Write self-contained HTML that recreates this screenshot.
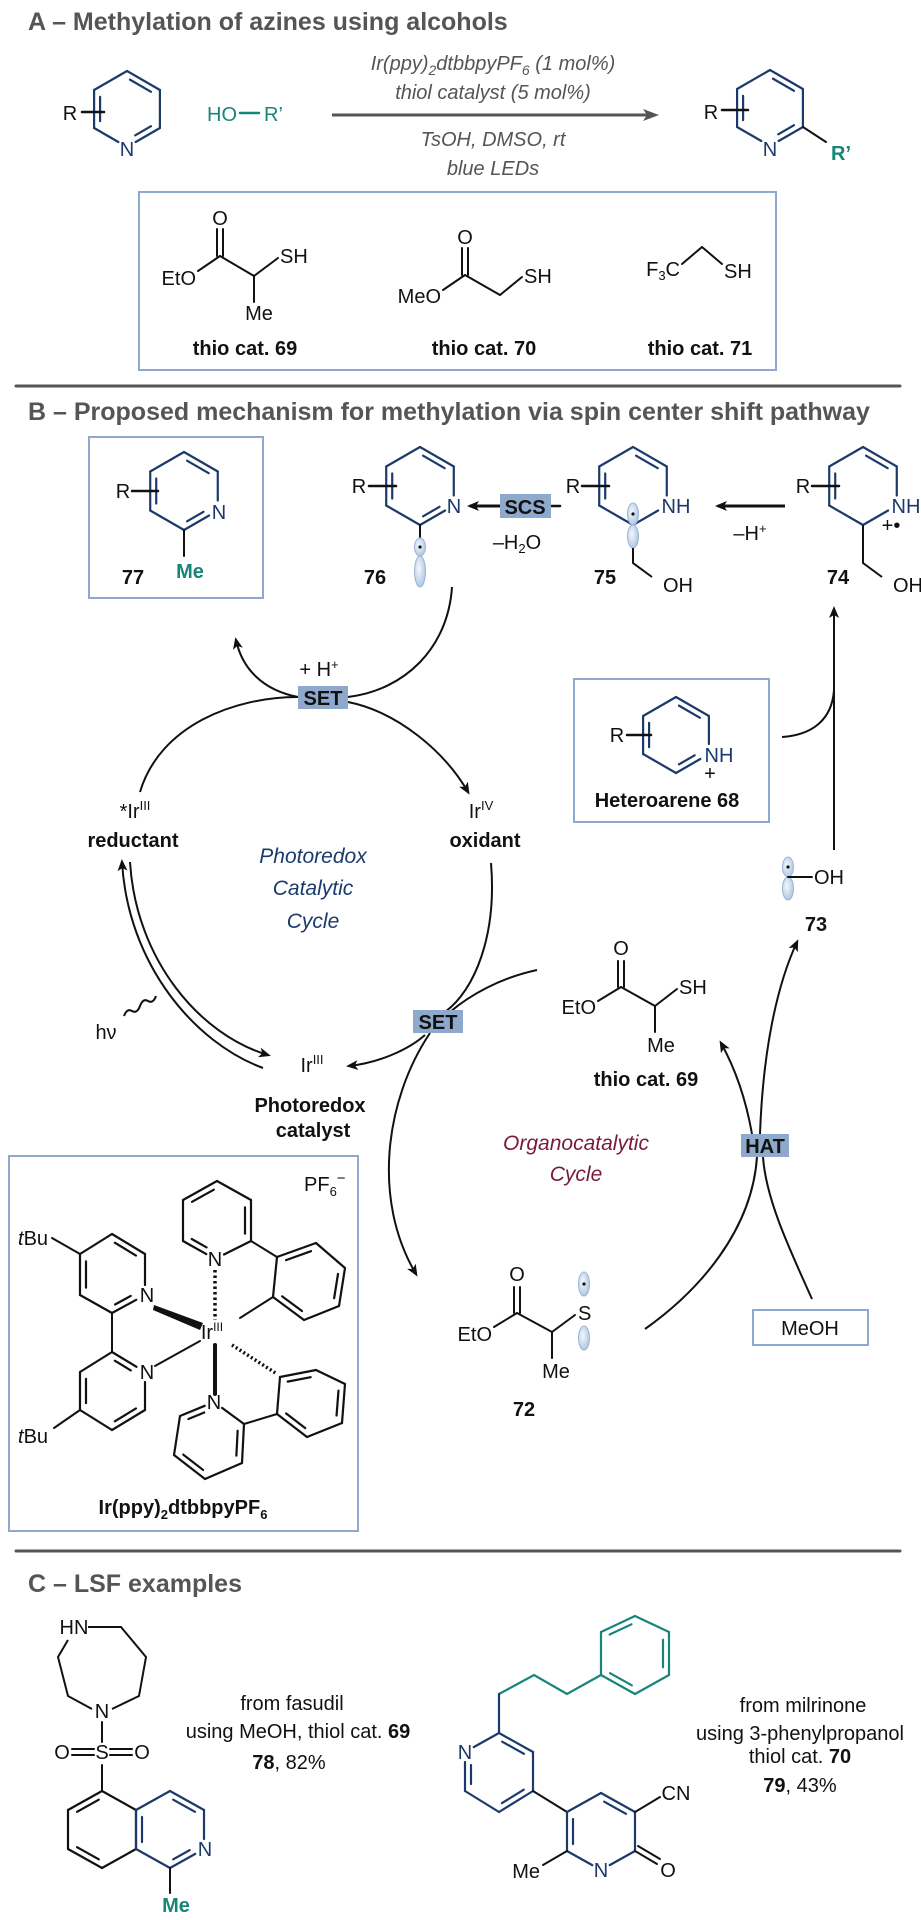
<!DOCTYPE html>
<html><head><meta charset="utf-8">
<style>
html,body{margin:0;padding:0;background:#fff;}
svg{display:block;}
text{font-family:"Liberation Sans Narrow","Liberation Sans",sans-serif;}
.t{font-size:25px;font-weight:bold;fill:#555;}
.a{font-size:20px;fill:#111;}
.b{font-size:20px;font-weight:bold;fill:#111;}
.c{font-size:20px;font-style:italic;fill:#555;font-family:"Liberation Sans",sans-serif;}
.teal{fill:#17857a;}
.nv{fill:#1b3a6b;}
</style></head>
<body>
<svg id="s" width="921" height="1920" viewBox="0 0 921 1920" xmlns="http://www.w3.org/2000/svg">
<defs>
<marker id="ah" markerWidth="12" markerHeight="10" refX="9" refY="5" orient="auto" markerUnits="userSpaceOnUse">
<path d="M0,0 L12,5 L0,10 L3,5 Z" fill="#111"/></marker>
<marker id="ahg" markerWidth="16" markerHeight="12" refX="12" refY="6" orient="auto" markerUnits="userSpaceOnUse">
<path d="M0,0 L16,6 L0,12 L4,6 Z" fill="#555"/></marker>
<radialGradient id="lg" cx="0.4" cy="0.4" r="0.7"><stop offset="0" stop-color="#f4f8fd"/><stop offset="1" stop-color="#a9c0de"/></radialGradient>
</defs>
<g id="g"></g>

<!-- Section A -->
<text class="t" x="28" y="30">A – Methylation of azines using alcohols</text>
<text class="a" x="70" y="120" text-anchor="middle">R</text>
<text class="a nv" x="127" y="156" text-anchor="middle">N</text>
<text class="a teal" x="207" y="121">HO</text>
<text class="a teal" x="264" y="121">R’</text>
<text class="c" x="493" y="70" text-anchor="middle">Ir(ppy)<tspan font-size="14" dy="5">2</tspan><tspan dy="-5">dtbbpyPF</tspan><tspan font-size="14" dy="5">6</tspan><tspan dy="-5"> (1 mol%)</tspan></text>
<text class="c" x="493" y="99" text-anchor="middle">thiol catalyst (5 mol%)</text>
<text class="c" x="493" y="146" text-anchor="middle">TsOH, DMSO, rt</text>
<text class="c" x="493" y="175" text-anchor="middle">blue LEDs</text>
<text class="a" x="711" y="119" text-anchor="middle">R</text>
<text class="a nv" x="770" y="156" text-anchor="middle">N</text>
<text class="b teal" x="841" y="160" text-anchor="middle">R’</text>

<rect x="139" y="192" width="637" height="178" fill="none" stroke="#8ea8d0" stroke-width="2"/>
<text class="a" x="220" y="225" text-anchor="middle">O</text>
<text class="a" x="196" y="285" text-anchor="end">EtO</text>
<text class="a" x="280" y="263">SH</text>
<text class="a" x="259" y="320" text-anchor="middle">Me</text>
<text class="a" x="465" y="244" text-anchor="middle">O</text>
<text class="a" x="441" y="303" text-anchor="end">MeO</text>
<text class="a" x="524" y="283">SH</text>
<text class="a" x="680" y="276" text-anchor="end">F<tspan font-size="13" dy="4">3</tspan><tspan dy="-4">C</tspan></text>
<text class="a" x="724" y="278">SH</text>
<text class="b" x="245" y="355" text-anchor="middle">thio cat. 69</text>
<text class="b" x="484" y="355" text-anchor="middle">thio cat. 70</text>
<text class="b" x="700" y="355" text-anchor="middle">thio cat. 71</text>

<!-- Section B -->
<text class="t" x="28" y="420">B – Proposed mechanism for methylation via spin center shift pathway</text>
<rect x="89" y="437" width="174" height="161" fill="none" stroke="#8ea8d0" stroke-width="2"/>
<text class="a" x="123" y="498" text-anchor="middle">R</text>
<text class="a nv" x="219" y="519" text-anchor="middle">N</text>
<text class="b teal" x="190" y="578" text-anchor="middle">Me</text>
<text class="b" x="133" y="584" text-anchor="middle">77</text>

<text class="a" x="359" y="493" text-anchor="middle">R</text>
<text class="a nv" x="454" y="513" text-anchor="middle">N</text>
<text class="b" x="375" y="584" text-anchor="middle">76</text>
<rect x="500" y="494" width="51" height="24" fill="#8fa9cc"/>
<text class="b" x="525" y="514" text-anchor="middle">SCS</text>
<text class="a" x="517" y="549" text-anchor="middle">–H<tspan font-size="13" dy="4">2</tspan><tspan dy="-4">O</tspan></text>

<text class="a" x="573" y="493" text-anchor="middle">R</text>
<text class="a nv" x="676" y="513" text-anchor="middle">NH</text>
<text class="b" x="605" y="584" text-anchor="middle">75</text>
<text class="a" x="678" y="592" text-anchor="middle">OH</text>
<text class="a" x="750" y="540" text-anchor="middle">–H<tspan font-size="13" dy="-7">+</tspan></text>

<text class="a" x="803" y="493" text-anchor="middle">R</text>
<text class="a nv" x="906" y="513" text-anchor="middle">NH</text>
<text class="a" x="891" y="532" text-anchor="middle" font-size="14">+•</text>
<text class="b" x="838" y="584" text-anchor="middle">74</text>
<text class="a" x="908" y="592" text-anchor="middle">OH</text>

<rect x="298" y="686" width="50" height="23" fill="#8fa9cc"/>
<text class="b" x="323" y="705" text-anchor="middle">SET</text>
<text class="a" x="319" y="676" text-anchor="middle">+ H<tspan font-size="13" dy="-7">+</tspan></text>

<rect x="574" y="679" width="195" height="143" fill="none" stroke="#8ea8d0" stroke-width="2"/>
<text class="a" x="617" y="742" text-anchor="middle">R</text>
<text class="a nv" x="719" y="762" text-anchor="middle">NH</text>
<text class="a" x="710" y="780" text-anchor="middle" font-size="15">+</text>
<text class="b" x="667" y="807" text-anchor="middle">Heteroarene 68</text>

<text class="a" x="135" y="818" text-anchor="middle">*Ir<tspan font-size="13" dy="-8">III</tspan></text>
<text class="a" x="481" y="818" text-anchor="middle">Ir<tspan font-size="13" dy="-8">IV</tspan></text>
<text class="b" x="133" y="847" text-anchor="middle">reductant</text>
<text class="b" x="485" y="847" text-anchor="middle">oxidant</text>
<g font-family="Liberation Sans,sans-serif" font-style="italic" font-size="21" fill="#1b3a6b" text-anchor="middle">
<text x="313" y="863">Photoredox</text><text x="313" y="895">Catalytic</text><text x="313" y="928">Cycle</text></g>

<text class="a" x="814" y="884">OH</text>
<text class="b" x="816" y="931" text-anchor="middle">73</text>

<text class="a" x="621" y="955" text-anchor="middle">O</text>
<text class="a" x="596" y="1014" text-anchor="end">EtO</text>
<text class="a" x="679" y="994">SH</text>
<text class="a" x="661" y="1052" text-anchor="middle">Me</text>
<text class="b" x="646" y="1086" text-anchor="middle" fill="#555">thio cat. 69</text>

<text class="a" x="106" y="1039" text-anchor="middle" font-size="22">hν</text>
<rect x="413" y="1010" width="50" height="23" fill="#8fa9cc"/>
<text class="b" x="438" y="1029" text-anchor="middle">SET</text>
<text class="a" x="312" y="1072" text-anchor="middle">Ir<tspan font-size="13" dy="-8">III</tspan></text>
<text class="b" x="310" y="1112" text-anchor="middle">Photoredox</text>
<text class="b" x="313" y="1137" text-anchor="middle">catalyst</text>

<g font-family="Liberation Sans,sans-serif" font-style="italic" font-size="21" fill="#7a1a3a" text-anchor="middle">
<text x="576" y="1150">Organocatalytic</text><text x="576" y="1181">Cycle</text></g>
<rect x="741" y="1134" width="48" height="23" fill="#8fa9cc"/>
<text class="b" x="765" y="1153" text-anchor="middle">HAT</text>
<rect x="753" y="1310" width="115" height="35" fill="none" stroke="#8ea8d0" stroke-width="2"/>
<text class="a" x="810" y="1335" text-anchor="middle">MeOH</text>

<text class="a" x="517" y="1281" text-anchor="middle">O</text>
<text class="a" x="492" y="1341" text-anchor="end">EtO</text>
<text class="a" x="578" y="1320">S</text>
<text class="a" x="556" y="1378" text-anchor="middle">Me</text>
<text class="b" x="524" y="1416" text-anchor="middle">72</text>

<rect x="9" y="1156" width="349" height="375" fill="none" stroke="#8ea8d0" stroke-width="2"/>
<text class="a" x="304" y="1191">PF<tspan font-size="13" dy="5">6</tspan><tspan font-size="15" dy="-13">−</tspan></text>
<text class="a" x="18" y="1245"><tspan font-style="italic">t</tspan>Bu</text>
<text class="a" x="18" y="1443"><tspan font-style="italic">t</tspan>Bu</text>
<text class="a" x="147" y="1302" text-anchor="middle">N</text>
<text class="a" x="147" y="1379" text-anchor="middle">N</text>
<text class="a" x="215" y="1266" text-anchor="middle">N</text>
<text class="a" x="214" y="1409" text-anchor="middle">N</text>
<text class="a" x="212" y="1339" text-anchor="middle">Ir<tspan font-size="12" dy="-8">III</tspan></text>
<text class="b" x="183" y="1514" text-anchor="middle">Ir(ppy)<tspan font-size="13" dy="5">2</tspan><tspan dy="-5">dtbbpyPF</tspan><tspan font-size="13" dy="5">6</tspan></text>

<!-- Section C -->
<text class="t" x="28" y="1592">C – LSF examples</text>
<text class="a" x="74" y="1634" text-anchor="middle">HN</text>
<text class="a" x="102" y="1718" text-anchor="middle">N</text>
<text class="a" x="102" y="1759" text-anchor="middle">S</text>
<text class="a" x="62" y="1759" text-anchor="middle">O</text>
<text class="a" x="142" y="1759" text-anchor="middle">O</text>
<text class="a nv" x="205" y="1856" text-anchor="middle">N</text>
<text class="b teal" x="176" y="1912" text-anchor="middle">Me</text>
<text class="a" x="292" y="1710" text-anchor="middle">from fasudil</text>
<text class="a" x="298" y="1738" text-anchor="middle">using MeOH, thiol cat. <tspan font-weight="bold">69</tspan></text>
<text class="a" x="289" y="1769" text-anchor="middle"><tspan font-weight="bold">78</tspan>, 82%</text>

<text class="a nv" x="465" y="1759" text-anchor="middle">N</text>
<text class="a nv" x="601" y="1877" text-anchor="middle">N</text>
<text class="a" x="676" y="1800" text-anchor="middle">CN</text>
<text class="a" x="668" y="1877" text-anchor="middle">O</text>
<text class="a" x="540" y="1878" text-anchor="end">Me</text>
<text class="a" x="803" y="1712" text-anchor="middle">from milrinone</text>
<text class="a" x="800" y="1740" text-anchor="middle">using 3-phenylpropanol</text>
<text class="a" x="800" y="1763" text-anchor="middle">thiol cat. <tspan font-weight="bold">70</tspan></text>
<text class="a" x="800" y="1792" text-anchor="middle"><tspan font-weight="bold">79</tspan>, 43%</text>
</svg>
<script>
var g=document.getElementById('g'),NS='http://www.w3.org/2000/svg';
function el(t,a){var e=document.createElementNS(NS,t);for(var k in a)e.setAttribute(k,a[k]);g.appendChild(e);return e;}
function L(x1,y1,x2,y2,c,w){el('line',{x1:x1,y1:y1,x2:x2,y2:y2,stroke:c||'#111','stroke-width':w||2,'stroke-linecap':'round'});}
function P(d,c,w,m){var a={d:d,fill:'none',stroke:c||'#111','stroke-width':w||2};if(m)a['marker-end']='url(#ah)';el('path',a);}
function poly(p,c,dbl,lab){var n=p.length,cx=0,cy=0;p.forEach(function(q){cx+=q[0];cy+=q[1]});cx/=n;cy/=n;lab=lab||[];
 for(var i=0;i<n;i++){var a=p[i],b=p[(i+1)%n],dx=b[0]-a[0],dy=b[1]-a[1],l=Math.hypot(dx,dy),ux=dx/l,uy=dy/l;
  var s1=lab.indexOf(i)>=0?10:0,s2=lab.indexOf((i+1)%n)>=0?10:0;
  L(a[0]+ux*s1,a[1]+uy*s1,b[0]-ux*s2,b[1]-uy*s2,c,2.2);
  if(dbl.indexOf(i)>=0){var mx=(a[0]+b[0])/2,my=(a[1]+b[1])/2,nx=-uy,ny=ux;if((cx-mx)*nx+(cy-my)*ny<0){nx=-nx;ny=-ny;}
   var o=6,sh=l*0.18,t1=Math.max(sh,s1+3),t2=Math.max(sh,s2+3);
   L(a[0]+ux*t1+nx*o,a[1]+uy*t1+ny*o,b[0]-ux*t2+nx*o,b[1]-uy*t2+ny*o,c,2.2);}}}
function hex(cx,cy,r,c,dbl,lab){var p=[];for(var i=0;i<6;i++){var an=-Math.PI/2+i*Math.PI/3;p.push([cx+r*Math.cos(an),cy+r*Math.sin(an)]);}poly(p,c,dbl,lab);return p;}
function lobe(x,y1,y2,dot){var cy=(y1+y2)/2,ry=(y2-y1)/2;el('ellipse',{cx:x,cy:cy,rx:5.5,ry:ry,fill:'url(#lg)',stroke:'#9db4d6','stroke-width':1});if(dot)el('circle',{cx:x,cy:cy,r:1.6,fill:'#111'});}
var NV='#1b3a6b',TL='#17857a',K='#111';
// A
hex(127,109,38,NV,[0,2,4],[3]);L(82,112,104,112,K,2.5);
L(240,113,259,113,TL,2.5);
el('line',{x1:332,y1:115,x2:655,y2:115,stroke:'#555','stroke-width':3,'marker-end':'url(#ahg)'});
hex(770,108,38,NV,[0,2,4],[3]);L(722,110,748,110,K,2.5);L(803,127,826,142,K,2);
// thio cats
L(217,229,217,256);L(223,229,223,256);L(220,256,198,271);L(220,256,254,276);L(254,276,278,258);L(254,276,254,302);
L(462,248,462,275);L(468,248,468,275);L(465,275,443,290);L(465,275,500,295);L(500,295,522,277);
L(682,264,702,247);L(702,247,722,264);
// dividers
L(16,386,900,386,'#555',3);L(16,1551,900,1551,'#555',3);
// B rings
hex(184,491,39,NV,[0,2,4],[2]);L(132,491,158,491,K,2.5);L(184,530,184,556,K,2);
hex(420,486,39,NV,[0,2,4],[2]);L(369,486,396,486,K,2.5);L(420,525,420,538,K,2);lobe(420,538,556,true);lobe(420,556,587,false);
el('line',{x1:500,y1:506,x2:470,y2:506,stroke:K,'stroke-width':3,'marker-end':'url(#ah)'});L(551,506,560,506,K,2.5);
hex(633,486,39,NV,[0,4],[2]);L(582,486,609,486,K,2.5);lobe(633,503,525,true);lobe(633,525,548,false);P('M633,548 L633,563 L652,577');
el('line',{x1:785,y1:506,x2:718,y2:506,stroke:K,'stroke-width':3,'marker-end':'url(#ah)'});
hex(863,486,39,NV,[0,4],[2]);L(812,486,839,486,K,2.5);P('M863,525 L863,563 L882,577');
hex(676,735,38,NV,[0,2,4],[2]);L(627,735,651,735,K,2.5);
// arrows photoredox
P('M140,792 C160,725 235,697 298,697');P('M348,702 C398,712 445,752 468,792',K,2,1);
P('M298,697 C262,690 242,668 236,640',K,2,1);
P('M452,587 C448,648 405,690 348,697');
P('M491,863 C497,935 475,990 445,1012');P('M430,1033 C385,1100 372,1200 416,1274',K,2,1);
P('M537,970 C500,978 470,995 450,1012');P('M425,1035 C408,1050 378,1063 349,1066',K,2,1);
P('M263,1068 C195,1043 128,965 122,862',K,2,1);P('M130,862 C136,960 200,1035 268,1055',K,2,1);
P('M124,1016 q3,-8 8,-5 q5,3 8,-5 q3,-8 8,-5 q5,3 8,-5');
// organocatalytic
P('M645,1329 C700,1290 752,1230 757,1157');P('M760,1134 C763,1050 777,985 797,942',K,2,1);
P('M752,1134 C746,1100 736,1070 721,1043',K,2,1);P('M812,1299 C790,1250 766,1200 763,1157');
el('line',{x1:834,y1:850,x2:834,y2:609,stroke:K,'stroke-width':2,'marker-end':'url(#ah)'});
P('M782,737 C812,735 832,720 834,690');
lobe(788,857,877,true);lobe(788,877,900,false);L(788,877,812,877);
// thio 69 B
L(618,961,618,987);L(624,961,624,987);L(621,987,598,1001);L(621,987,655,1006);L(655,1006,677,989);L(655,1006,655,1032);
// 72
L(514,1287,514,1313);L(520,1287,520,1313);L(517,1313,494,1327);L(517,1313,552,1332);L(552,1332,575,1315);L(552,1332,552,1358);
lobe(584,1272,1296,true);lobe(584,1326,1350,false);
// Ir complex
poly([[217,1181],[251,1200],[251,1241],[215,1259],[183,1241],[183,1200]],K,[5,1,3],[3]);
poly([[277,1257],[316,1243],[345,1268],[339,1306],[304,1320],[273,1297]],K,[0,2,4],[]);
L(251,1241,277,1257);L(273,1297,240,1318);
el('line',{x1:215,y1:1270,x2:215,y2:1320,stroke:K,'stroke-width':3.5,'stroke-dasharray':'2.5,3'});
poly([[112,1234],[145,1254],[145,1295],[112,1313],[80,1295],[80,1254]],K,[0,2,4],[2]);
L(80,1254,52,1238);L(112,1313,112,1352);
poly([[112,1352],[145,1372],[145,1410],[112,1430],[80,1410],[80,1372]],K,[0,2,4],[1]);
L(80,1410,54,1428);
el('polygon',{points:'154,1305 203,1323 200,1330 153,1310',fill:K});
L(155,1366,200,1341);
L(215,1345,215,1394,K,4);
poly([[214,1402],[244,1424],[242,1463],[205,1479],[174,1455],[180,1416]],K,[1,3,5],[0]);
poly([[277,1414],[307,1437],[342,1423],[345,1384],[316,1370],[280,1377]],K,[0,2,4],[]);
L(244,1424,277,1414);
el('line',{x1:232,y1:1345,x2:277,y2:1374,stroke:K,'stroke-width':3.5,'stroke-dasharray':'2,2.5'});
// fasudil
P('M88,1627 L121,1627 L146,1657 L139,1696 L112,1709');P('M92,1709 L68,1696 L58,1657 L68,1640');
L(102,1722,102,1742);L(72,1749,94,1749);L(72,1755,94,1755);L(110,1749,132,1749);L(110,1755,132,1755);L(102,1765,102,1791);
poly([[102,1791],[136,1810],[136,1849],[102,1868],[68,1849],[68,1810]],K,[5,3],[]);
poly([[170,1791],[204,1810],[204,1849],[170,1868],[136,1849],[136,1810]],NV,[0,2,4],[2]);
L(170,1868,170,1893,K,2);
// milrinone
poly([[635,1616],[669,1632],[669,1675],[635,1694],[601,1675],[601,1632]],TL,[5,1,3],[]);
P('M601,1675 L567,1694 L534,1675 L499,1694',TL,2.2);L(499,1694,499,1733,NV,2.2);
poly([[499,1733],[533,1752],[533,1791],[499,1812],[465,1791],[465,1752]],NV,[0,2,4],[5]);
L(533,1791,567,1812,K,2);
poly([[601,1793],[635,1812],[635,1851],[601,1870],[567,1851],[567,1812]],NV,[0,4],[3]);
L(635,1812,660,1797);L(635,1851,657,1864);L(638,1846,660,1859);L(567,1851,543,1865);
</script>
</body></html>
